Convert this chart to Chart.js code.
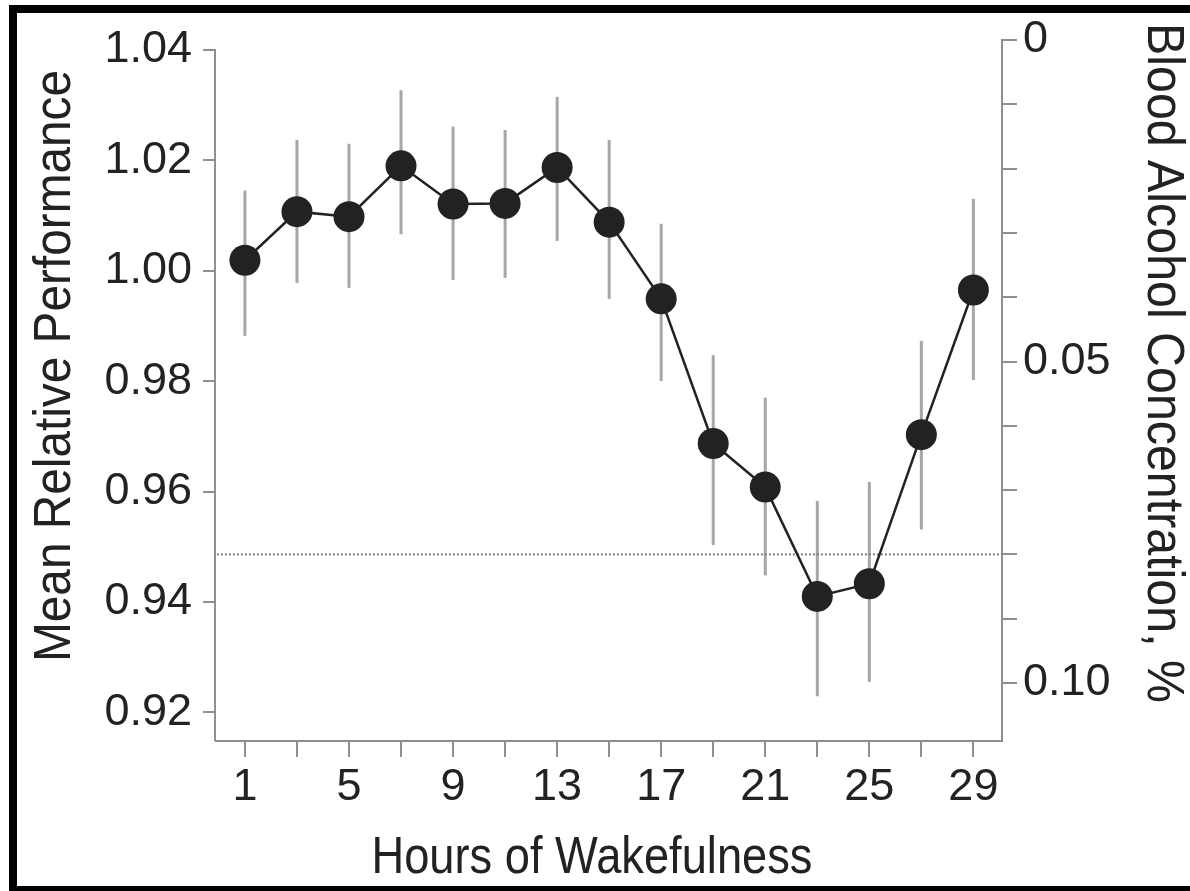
<!DOCTYPE html>
<html>
<head>
<meta charset="utf-8">
<script src="https://cdn.jsdelivr.net/npm/chart.js@4.4.1/dist/chart.umd.min.js"></script>
<style>
  html, body { margin: 0; padding: 0; background: #fff; }
  #wrap { position: relative; width: 1190px; height: 891px; overflow: hidden; }
  #c { position: absolute; left: 0; top: 0; }
  #frame { position: absolute; left: 9px; top: 5px; width: 1300px; height: 873px;
           border-left: 8px solid #000; border-top: 8px solid #000; border-bottom: 8px solid #000;
           pointer-events: none; }
</style>
</head>
<body>
<div id="wrap">
  <canvas id="c" width="1190" height="891"></canvas>
  <div id="frame"></div>
</div>
<script>
// ---- data ----
const hours = [1, 3, 5, 7, 9, 11, 13, 15, 17, 19, 21, 23, 25, 27, 29];
const performance = [1.0019, 1.0107, 1.0098, 1.0190, 1.0121, 1.0122, 1.0187, 1.0088, 0.9949, 0.9687, 0.9608, 0.9410, 0.9433, 0.9703, 0.9965];
const errUpper = [1.0145, 1.0237, 1.0230, 1.0327, 1.0261, 1.0255, 1.0315, 1.0237, 1.0085, 0.9847, 0.9770, 0.9583, 0.9617, 0.9873, 1.0130];
const errLower = [0.9882, 0.9978, 0.9969, 1.0066, 0.9983, 0.9987, 1.0054, 0.9949, 0.9800, 0.9503, 0.9448, 0.9229, 0.9255, 0.9531, 0.9802];
const bacReference = 0.08;
const hourTicks = [1, 3, 5, 7, 9, 11, 13, 15, 17, 19, 21, 23, 25, 27, 29];
const hourLabels = ['1', '', '5', '', '9', '', '13', '', '17', '', '21', '', '25', '', '29'];
const perfTicks = [0.92, 0.94, 0.96, 0.98, 1.00, 1.02, 1.04];
const perfLabels = ['0.92', '0.94', '0.96', '0.98', '1.00', '1.02', '1.04'];
const bacTicks = [0, 0.01, 0.02, 0.03, 0.04, 0.05, 0.06, 0.07, 0.08, 0.09, 0.10];
const bacLabels = ['0', '', '', '', '', '0.05', '', '', '', '', '0.10'];
const xTitle = 'Hours of Wakefulness';
const yTitle = 'Mean Relative Performance';
const y2Title = 'Blood Alcohol Concentration, %';

// ---- styling ----
const FONT = '"Liberation Sans", Arial, Helvetica, sans-serif';
const TEXT = '#222';
const AXIS = '#8f8f8f';
const tickFont = { family: FONT, size: 45 };

const errorBars = {
  id: 'errorBars',
  beforeDatasetsDraw(chart) {
    const { ctx, scales: { x, y } } = chart;
    ctx.save();
    ctx.strokeStyle = '#a6a6a6';
    ctx.lineWidth = 3;
    hours.forEach((h, i) => {
      const px = x.getPixelForValue(h);
      ctx.beginPath();
      ctx.moveTo(px, y.getPixelForValue(errUpper[i]));
      ctx.lineTo(px, y.getPixelForValue(errLower[i]));
      ctx.stroke();
    });
    ctx.restore();
  }
};

const leftAxisLine = {
  id: 'leftAxisLine',
  afterDraw(chart) {
    const { ctx, chartArea, scales: { y } } = chart;
    ctx.save();
    ctx.strokeStyle = AXIS;
    ctx.lineWidth = 2;
    ctx.beginPath();
    ctx.moveTo(chartArea.left - 1, y.getPixelForValue(perfTicks[perfTicks.length - 1]));
    ctx.lineTo(chartArea.left - 1, chartArea.bottom);
    ctx.stroke();
    ctx.restore();
  }
};

function drawTitle(ctx, text, cx, cy, rot, size, targetLen) {
  ctx.save();
  ctx.font = size + 'px ' + FONT;
  const w = ctx.measureText(text).width;
  ctx.translate(cx, cy);
  ctx.rotate(rot);
  ctx.scale(targetLen / w, 1);
  ctx.fillStyle = TEXT;
  ctx.textAlign = 'center';
  ctx.textBaseline = 'alphabetic';
  ctx.fillText(text, 0, 0);
  ctx.restore();
}

const titles = {
  id: 'titles',
  afterDraw(chart) {
    const ctx = chart.ctx;
    drawTitle(ctx, xTitle, 592, 873, 0, 52, 441);
    drawTitle(ctx, yTitle, 70, 366, -Math.PI / 2, 52, 592);
    drawTitle(ctx, y2Title, 1148, 363, Math.PI / 2, 52, 680);
  }
};

new Chart(document.getElementById('c'), {
  type: 'line',
  data: {
    datasets: [
      {
        label: 'Performance',
        data: hours.map((h, i) => ({ x: h, y: performance[i] })),
        xAxisID: 'x', yAxisID: 'y',
        borderColor: '#222', borderWidth: 2.5,
        pointRadius: 15.5, pointHoverRadius: 15.5,
        pointBackgroundColor: '#222', pointBorderWidth: 0,
        tension: 0
      },
      {
        label: 'BAC reference',
        data: [{ x: -1, y: bacReference }, { x: 31, y: bacReference }],
        xAxisID: 'x', yAxisID: 'y2',
        borderColor: '#7a7a7a', borderWidth: 2, borderDash: [2, 2],
        pointRadius: 0, tension: 0
      }
    ]
  },
  options: {
    responsive: false,
    animation: false,
    devicePixelRatio: 1,
    layout: { padding: { top: 40, left: 0, right: 0, bottom: 0 } },
    plugins: { legend: { display: false }, tooltip: { enabled: false } },
    scales: {
      x: {
        type: 'linear', position: 'bottom',
        min: -0.112, max: 30.1,
        afterBuildTicks: s => { s.ticks = hourTicks.map(v => ({ value: v })); },
        afterFit: s => { s.height = 150; },
        ticks: {
          autoSkip: false, maxRotation: 0, minRotation: 0,
          font: tickFont, color: TEXT, padding: 4,
          callback: (v, i) => hourLabels[i]
        },
        grid: { drawOnChartArea: false, drawTicks: true, tickLength: 16, color: AXIS, lineWidth: 2 },
        border: { display: true, color: AXIS, width: 2 }
      },
      y: {
        type: 'linear', position: 'left',
        min: 0.9148, max: 1.0418,
        afterBuildTicks: s => { s.ticks = perfTicks.map(v => ({ value: v })); },
        afterFit: s => { s.width = 216; },
        ticks: {
          autoSkip: false, font: tickFont, color: TEXT, padding: 11,
          callback: (v, i) => perfLabels[i]
        },
        grid: { drawOnChartArea: false, drawTicks: true, tickLength: 13, color: AXIS, lineWidth: 2 },
        border: { display: false }
      },
      y2: {
        type: 'linear', position: 'right', reverse: true,
        min: 0, max: 0.10902,
        afterBuildTicks: s => { s.ticks = bacTicks.map(v => ({ value: v })); },
        afterFit: s => { s.width = 188; },
        ticks: {
          autoSkip: false, font: tickFont, color: TEXT, padding: 6,
          callback: (v, i) => bacLabels[i]
        },
        grid: { drawOnChartArea: false, drawTicks: true, tickLength: 15, color: AXIS, lineWidth: 2 },
        border: { display: true, color: AXIS, width: 2 }
      }
    }
  },
  plugins: [errorBars, leftAxisLine, titles]
});
</script>
</body>
</html>
